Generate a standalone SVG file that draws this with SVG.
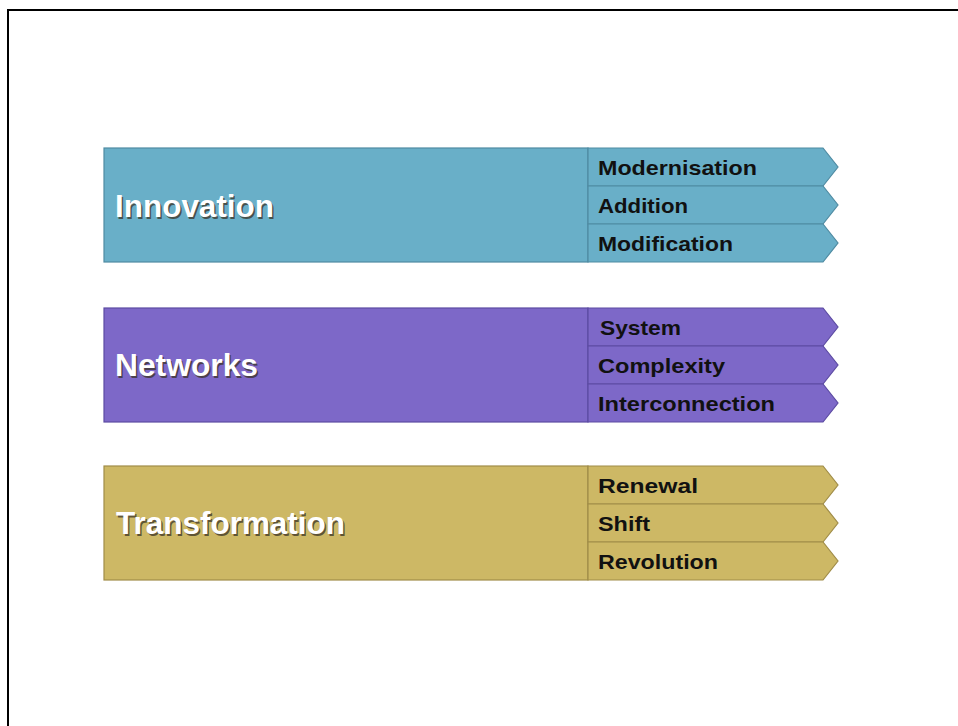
<svg xmlns="http://www.w3.org/2000/svg" width="958" height="726" viewBox="0 0 958 726">
  <style>
    .frame { fill: none; stroke: #000; stroke-width: 2; }
    .head { font-family: "Liberation Sans", Arial, sans-serif; font-weight: bold; font-size: 32px; }
    .head-shadow { fill: #3b3326; fill-opacity: 0.75; }
    .head-text { fill: #ffffff; }
    .item { font-family: "Liberation Sans", Arial, sans-serif; font-weight: bold; font-size: 21px; fill: #111111; }
    .blue .box, .blue .tab { fill: #69afc8; stroke: #4f8ba2; stroke-width: 1.2; }
    .purple .box, .purple .tab { fill: #7d68c8; stroke: #5c4ba2; stroke-width: 1.2; }
    .gold .box, .gold .tab { fill: #cdb865; stroke: #a08c48; stroke-width: 1.2; }
  </style>
  <defs>
    <!-- one chevron tab, 38px tall, anchored at its top-left corner -->
    <polygon id="tab" points="0,0 235,0 250,19 235,38 0,38"/>
  </defs>

  <rect class="frame" x="8" y="10" width="980" height="740"/>

  <!-- Innovation -->
  <g id="innovation" class="blue">
    <rect class="box" x="104" y="148" width="484" height="114"/>
    <text class="head head-shadow" x="116.5" y="218.5" textLength="159" lengthAdjust="spacingAndGlyphs">Innovation</text>
    <text class="head head-text" x="115" y="217" textLength="159" lengthAdjust="spacingAndGlyphs">Innovation</text>
    <g id="modernisation">
      <use href="#tab" class="tab" x="588" y="148"/>
      <text class="item" x="598" y="175" textLength="159" lengthAdjust="spacingAndGlyphs">Modernisation</text>
    </g>
    <g id="addition">
      <use href="#tab" class="tab" x="588" y="186"/>
      <text class="item" x="598" y="213" textLength="90" lengthAdjust="spacingAndGlyphs">Addition</text>
    </g>
    <g id="modification">
      <use href="#tab" class="tab" x="588" y="224"/>
      <text class="item" x="598" y="251" textLength="135" lengthAdjust="spacingAndGlyphs">Modification</text>
    </g>
  </g>

  <!-- Networks -->
  <g id="networks" class="purple">
    <rect class="box" x="104" y="308" width="484" height="114"/>
    <text class="head head-shadow" x="116.5" y="377.5" textLength="143" lengthAdjust="spacingAndGlyphs">Networks</text>
    <text class="head head-text" x="115" y="376" textLength="143" lengthAdjust="spacingAndGlyphs">Networks</text>
    <g id="system">
      <use href="#tab" class="tab" x="588" y="308"/>
      <text class="item" x="600" y="335" textLength="81" lengthAdjust="spacingAndGlyphs">System</text>
    </g>
    <g id="complexity">
      <use href="#tab" class="tab" x="588" y="346"/>
      <text class="item" x="598" y="373" textLength="127" lengthAdjust="spacingAndGlyphs">Complexity</text>
    </g>
    <g id="interconnection">
      <use href="#tab" class="tab" x="588" y="384"/>
      <text class="item" x="598" y="411" textLength="177" lengthAdjust="spacingAndGlyphs">Interconnection</text>
    </g>
  </g>

  <!-- Transformation -->
  <g id="transformation" class="gold">
    <rect class="box" x="104" y="466" width="484" height="114"/>
    <text class="head head-shadow" x="117.5" y="535.5" textLength="229" lengthAdjust="spacingAndGlyphs">Transformation</text>
    <text class="head head-text" x="116" y="534" textLength="229" lengthAdjust="spacingAndGlyphs">Transformation</text>
    <g id="renewal">
      <use href="#tab" class="tab" x="588" y="466"/>
      <text class="item" x="598" y="493" textLength="100" lengthAdjust="spacingAndGlyphs">Renewal</text>
    </g>
    <g id="shift">
      <use href="#tab" class="tab" x="588" y="504"/>
      <text class="item" x="598" y="531" textLength="52" lengthAdjust="spacingAndGlyphs">Shift</text>
    </g>
    <g id="revolution">
      <use href="#tab" class="tab" x="588" y="542"/>
      <text class="item" x="598" y="569" textLength="120" lengthAdjust="spacingAndGlyphs">Revolution</text>
    </g>
  </g>
</svg>
